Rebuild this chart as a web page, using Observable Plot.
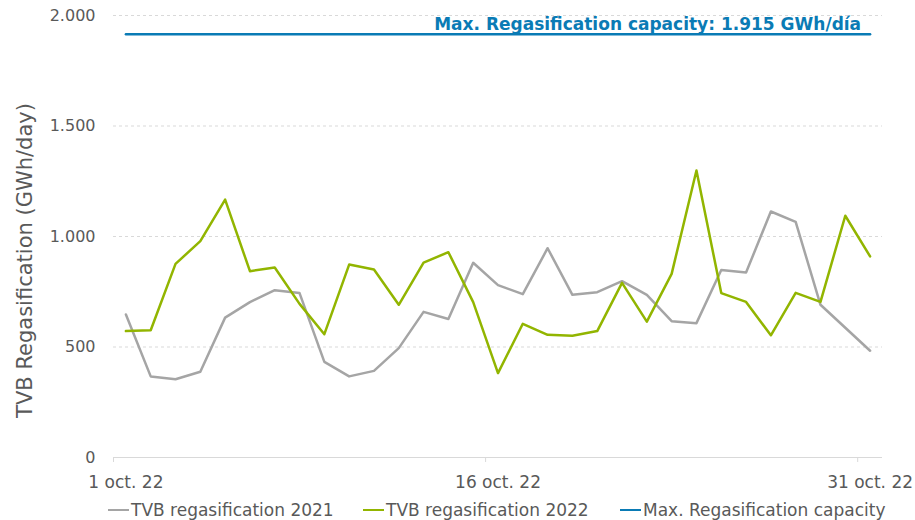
<!DOCTYPE html>
<html>
<head>
<meta charset="utf-8">
<script src="https://cdn.jsdelivr.net/npm/d3@7"></script>
<script src="https://cdn.jsdelivr.net/npm/@observablehq/plot@0.6"></script>
<style>
  html, body { margin: 0; padding: 0; background: #fff; }
  #wrap { position: relative; width: 915px; height: 520px; overflow: hidden; font-family: "DejaVu Sans", Verdana, sans-serif; }
  #legend { position: absolute; left: 0; top: 500px; width: 915px; height: 20px; color: #595959; font-size: 17px; line-height: 20px; }
  .item { position: absolute; top: 0; display: flex; align-items: center; height: 20px; white-space: nowrap; }
  .sw { width: 21px; height: 2.5px; margin-right: 2px; }
</style>
</head>
<body>
<div id="wrap">
  <div id="chart"></div>
  <div id="legend"></div>
</div>
<script>
const days = d3.range(1, 32);
const regas2021 = [647, 367, 354, 388, 633, 703, 757, 744, 433, 367, 392, 495, 659, 627, 881,
                   780, 739, 947, 736, 748, 798, 736, 617, 608, 848, 837, 1113, 1066, 691, 587, 483];
const regas2022 = [572, 576, 876, 979, 1167, 843, 860, 695, 558, 873, 851, 691, 882, 929, 703,
                   382, 605, 555, 551, 572, 790, 615, 831, 1299, 744, 704, 553, 745, 704, 1094, 910];
const maxCapacity = 1915;
const yTicks = [0, 500, 1000, 1500, 2000];
const xLabelDays = [1, 16, 31];
const xTickDays = [0.5, 15.5, 30.5];
const seriesNames = ["TVB regasification 2021", "TVB regasification 2022", "Max. Regasification capacity"];
const seriesColors = ["#a5a5a5", "#92b500", "#0a7bb5"];
const capLabel = "Max. Regasification capacity: 1.915 GWh/día";
const yTitle = "TVB Regasification (GWh/day)";

const rows2021 = days.map((d, i) => ({day: d, value: regas2021[i]}));
const rows2022 = days.map((d, i) => ({day: d, value: regas2022[i]}));
const capRows = [{day: days[0], value: maxCapacity}, {day: days[days.length - 1], value: maxCapacity}];

const fmtY = d => d < 1000 ? String(d) : `${Math.floor(d / 1000)}.${String(d % 1000).padStart(3, "0")}`;

const chart = Plot.plot({
  width: 915,
  height: 496,
  marginTop: 15,
  marginBottom: 39,
  marginLeft: 113,
  marginRight: 33,
  style: {fontFamily: "DejaVu Sans, Verdana, sans-serif", color: "#595959", background: "#fff"},
  x: {domain: [0.5, 31.5]},
  y: {domain: [0, 2000]},
  marks: [
    Plot.ruleY(yTicks.filter(d => d > 0), {stroke: "#d9d9d9", strokeDasharray: "3,3", strokeWidth: 1}),
    Plot.ruleY([0], {stroke: "#d9d9d9", strokeWidth: 1.2}),
    Plot.axisX({ticks: xTickDays, tickSize: 5, tickFormat: () => "", stroke: "#d9d9d9", strokeOpacity: 1, label: null}),
    Plot.axisX({ticks: xLabelDays, tickSize: 0, tickPadding: 18, fontSize: 17, fill: "#595959",
                tickFormat: d => `${d} oct. 22`, label: null}),
    Plot.axisY({ticks: yTicks, tickSize: 0, tickPadding: 18, fontSize: 16, fill: "#595959",
                tickFormat: fmtY, label: null}),
    Plot.text([yTitle], {frameAnchor: "left", textAnchor: "middle", dx: -88, dy: 24, rotate: -90, fontSize: 21, fill: "#595959", text: d => d}),
    Plot.line(capRows, {x: "day", y: "value", stroke: seriesColors[2], strokeWidth: 2.5}),
    Plot.text([capLabel], {x: 31, y: maxCapacity, text: d => d, textAnchor: "end", dy: -10, dx: -9,
                           fontSize: 17, fontWeight: "bold", fill: seriesColors[2]}),
    Plot.line(rows2021, {x: "day", y: "value", stroke: seriesColors[0], strokeWidth: 2.5}),
    Plot.line(rows2022, {x: "day", y: "value", stroke: seriesColors[1], strokeWidth: 2.5})
  ]
});
document.getElementById("chart").appendChild(chart);

const legendLefts = [108, 363, 620];
const legend = document.getElementById("legend");
seriesNames.forEach((name, i) => {
  const it = document.createElement("div");
  it.className = "item";
  it.style.left = legendLefts[i] + "px";
  it.innerHTML = `<span class="sw" style="background:${seriesColors[i]}"></span><span>${name}</span>`;
  legend.appendChild(it);
});
</script>
</body>
</html>
